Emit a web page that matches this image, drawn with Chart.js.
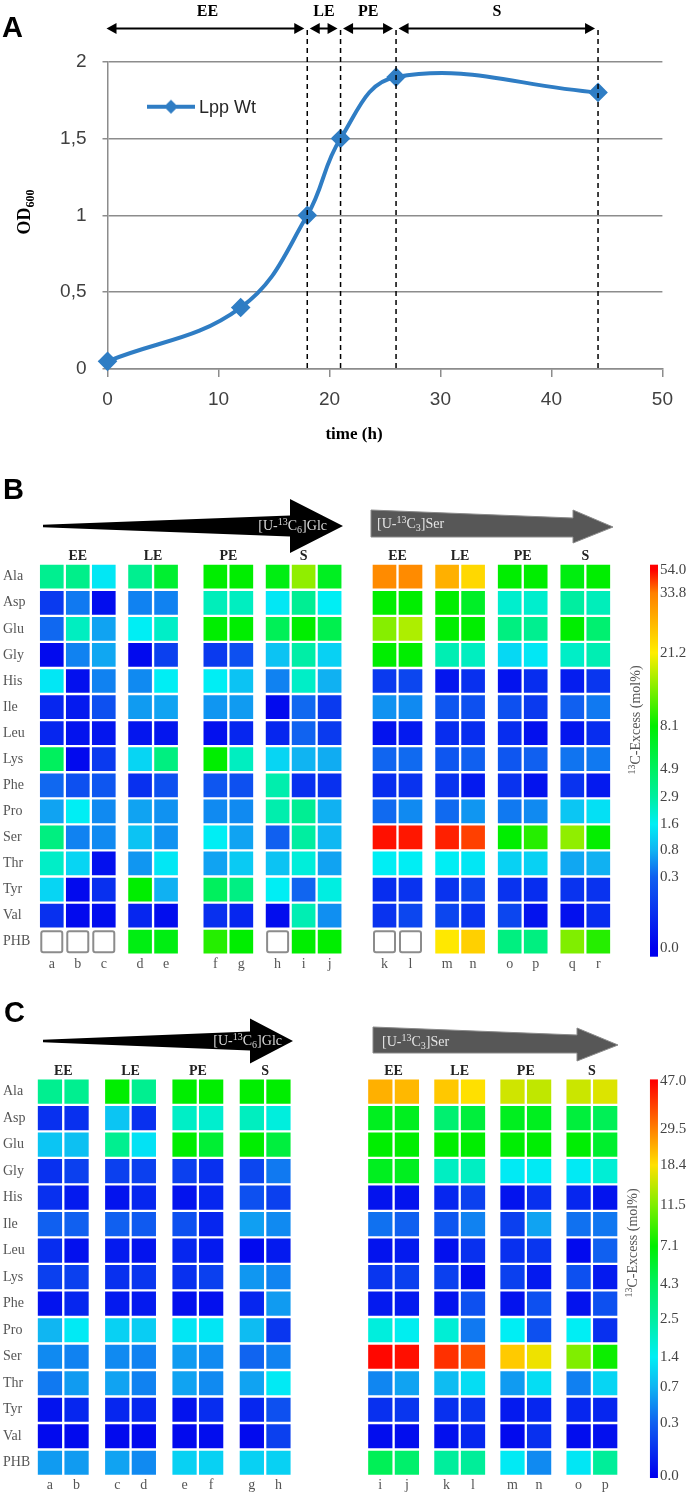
<!DOCTYPE html>
<html>
<head>
<meta charset="utf-8">
<title>Lpp growth and 13C-excess</title>
<script src="https://cdn.jsdelivr.net/npm/chart.js@4.4.1/dist/chart.umd.min.js"></script>
<style>
  html, body { margin: 0; padding: 0; background: #fff; }
  body { position: relative; width: 693px; height: 1496px; overflow: hidden; }
  canvas { position: absolute; }
</style>
</head>
<body>
<canvas id="growth" width="693" height="455" style="left:0;top:0"></canvas>
<canvas id="glcB" width="350" height="510" style="left:0;top:470px"></canvas>
<canvas id="serB" width="343" height="510" style="left:350px;top:470px"></canvas>
<canvas id="glcC" width="350" height="511" style="left:0;top:985px"></canvas>
<canvas id="serC" width="343" height="511" style="left:350px;top:985px"></canvas>
<script>
// growth curve (A)
var hours = [0, 12, 18, 21, 26, 44.2];
var od600 = [0.05, 0.4, 1.0, 1.5, 1.9, 1.8];
var phases = ['EE', 'LE', 'PE', 'S'];
var phaseEnd = [18, 21, 26, 44.2];

// 13C-excess heatmaps (B, C), one row per amino acid, one column per sample
var aminoAcids = ['Ala', 'Asp', 'Glu', 'Gly', 'His', 'Ile', 'Leu', 'Lys', 'Phe', 'Pro', 'Ser', 'Thr', 'Tyr', 'Val', 'PHB'];
var repsGlcB = [3, 2, 2, 3];
var repsSerB = [2, 2, 2, 2];
var repsGlcC = [2, 2, 2, 2];
var repsSerC = [2, 2, 2, 2];
var lettersGlcB = ['a', 'b', 'c', 'd', 'e', 'f', 'g', 'h', 'i', 'j'];
var lettersSerB = ['k', 'l', 'm', 'n', 'o', 'p', 'q', 'r'];
var lettersGlcC = ['a', 'b', 'c', 'd', 'e', 'f', 'g', 'h'];
var lettersSerC = ['i', 'j', 'k', 'l', 'm', 'n', 'o', 'p'];

var excessGlcB = [
  [3.4, 3.6, 1.5, 3.4, 6.5, 8.1, 8.1, 7.5, 15.5, 7.0],
  [0.18, 0.45, 0.04, 0.5, 0.5, 2.5, 2.4, 1.5, 3.3, 1.6],
  [0.35, 2.4, 0.7, 1.6, 2.3, 8.1, 8.1, 5.2, 8.1, 5.5],
  [0.03, 0.5, 0.72, 0.03, 0.2, 0.18, 0.25, 1.0, 2.8, 1.2],
  [1.5, 0.05, 0.5, 0.55, 1.6, 1.6, 1.0, 0.5, 2.3, 0.78],
  [0.12, 0.08, 0.25, 0.65, 0.7, 0.62, 0.65, 0.03, 0.35, 0.18],
  [0.12, 0.06, 0.07, 0.07, 0.07, 0.05, 0.12, 0.12, 0.32, 0.18],
  [5.0, 0.03, 0.18, 1.25, 3.9, 8.1, 2.4, 1.25, 0.8, 0.75],
  [0.35, 0.25, 0.27, 0.15, 0.25, 0.27, 0.25, 2.7, 0.15, 0.15],
  [0.7, 1.6, 0.55, 0.7, 0.6, 0.55, 0.55, 2.7, 3.3, 0.78],
  [3.9, 0.5, 0.55, 1.0, 0.6, 1.6, 0.7, 0.3, 2.9, 0.85],
  [2.3, 1.25, 0.05, 0.62, 1.5, 0.7, 1.1, 1.0, 2.0, 0.7],
  [1.25, 0.03, 0.15, 8.1, 0.78, 5.0, 3.8, 1.6, 0.33, 1.9],
  [0.15, 0.03, 0.04, 0.12, 0.04, 0.15, 0.12, 0.04, 2.6, 0.58],
  [null, null, null, 7.5, 7.5, 10, 8.1, null, 8.1, 8.1]
];
var excessSerB = [
  [32.5, 32.5, 28.3, 23.7, 8.1, 8.1, 7.6, 8.1],
  [8.1, 8.1, 8.1, 6.8, 2.2, 2.2, 2.9, 2.5],
  [15, 17, 8.1, 8.1, 3.9, 3.4, 8.1, 4.4],
  [8.1, 8.1, 2.6, 2.4, 1.3, 1.5, 2.3, 2.6],
  [0.18, 0.22, 0.07, 0.15, 0.06, 0.14, 0.09, 0.17],
  [0.6, 0.55, 0.27, 0.25, 0.25, 0.18, 0.3, 0.45],
  [0.06, 0.08, 0.14, 0.14, 0.14, 0.05, 0.07, 0.14],
  [0.33, 0.36, 0.27, 0.3, 0.27, 0.3, 0.42, 0.45],
  [0.14, 0.16, 0.16, 0.08, 0.16, 0.06, 0.16, 0.08],
  [0.36, 0.55, 0.36, 0.62, 0.45, 0.55, 1.05, 1.4],
  [51.5, 50.3, 49, 43.9, 8.1, 10, 15.5, 8.3],
  [1.6, 1.6, 1.6, 1.5, 1.2, 1.2, 0.72, 0.78],
  [0.14, 0.16, 0.16, 0.22, 0.16, 0.14, 0.16, 0.16],
  [0.16, 0.22, 0.22, 0.16, 0.22, 0.06, 0.05, 0.14],
  [null, null, 21.9, 24.6, 3.9, 3.9, 14.7, 10]
];
var excessGlcC = [
  [2.95, 2.95, 7.1, 2.95, 7.1, 7.1, 7.1, 7.1],
  [0.15, 0.15, 0.9, 0.15, 2.0, 1.9, 2.1, 1.7],
  [0.9, 0.85, 2.95, 1.25, 7.1, 5.6, 7.1, 5.3],
  [0.15, 0.2, 0.2, 0.2, 0.2, 0.15, 0.22, 0.42],
  [0.15, 0.08, 0.06, 0.12, 0.06, 0.12, 0.25, 0.2],
  [0.3, 0.3, 0.3, 0.28, 0.25, 0.12, 0.6, 0.5],
  [0.14, 0.05, 0.08, 0.06, 0.12, 0.08, 0.03, 0.08],
  [0.2, 0.2, 0.15, 0.17, 0.15, 0.2, 0.56, 0.47],
  [0.06, 0.12, 0.08, 0.08, 0.05, 0.05, 0.12, 0.58],
  [0.72, 1.35, 1.05, 1.0, 1.3, 1.3, 0.8, 0.17],
  [0.5, 0.46, 0.5, 0.46, 0.58, 0.5, 0.32, 0.46],
  [0.42, 0.58, 0.62, 0.46, 0.62, 0.5, 0.62, 1.35],
  [0.06, 0.12, 0.12, 0.12, 0.06, 0.14, 0.12, 0.25],
  [0.03, 0.03, 0.03, 0.03, 0.03, 0.04, 0.03, 0.2],
  [0.58, 0.58, 0.62, 0.5, 1.05, 1.05, 1.05, 1.05]
];
var excessSerC = [
  [24, 23, 21.2, 18.4, 15.8, 15, 15.5, 16.5],
  [6.2, 6.2, 3.85, 5.35, 6.2, 6.2, 5.35, 4.6],
  [7.1, 7.1, 7.1, 7.1, 7.0, 7.0, 7.0, 5.8],
  [6.2, 6.2, 2.06, 2.06, 1.35, 1.35, 1.35, 1.8],
  [0.06, 0.06, 0.12, 0.2, 0.06, 0.15, 0.12, 0.06],
  [0.38, 0.3, 0.27, 0.46, 0.2, 0.62, 0.38, 0.41],
  [0.06, 0.08, 0.05, 0.15, 0.15, 0.17, 0.03, 0.3],
  [0.17, 0.2, 0.2, 0.04, 0.2, 0.08, 0.25, 0.08],
  [0.08, 0.08, 0.06, 0.25, 0.06, 0.25, 0.06, 0.25],
  [1.7, 1.45, 1.8, 0.42, 1.4, 0.25, 1.4, 0.15],
  [46, 45, 40.4, 36, 21, 17.5, 11.5, 7.5],
  [0.48, 0.62, 0.8, 1.2, 0.58, 1.2, 0.45, 1.1],
  [0.15, 0.17, 0.15, 0.17, 0.08, 0.12, 0.12, 0.12],
  [0.04, 0.04, 0.05, 0.12, 0.03, 0.15, 0.04, 0.05],
  [4.6, 4.0, 2.6, 2.7, 1.35, 0.5, 1.3, 2.7]
];

// colour-scale tick values (mol%)
var scaleB = [0.0, 0.3, 0.8, 1.6, 2.9, 4.9, 8.1, 21.2, 33.8, 54.0];
var scaleC = [0.0, 0.3, 0.7, 1.4, 2.5, 4.3, 7.1, 11.5, 18.4, 29.5, 47.0];

// ---- styling ----
var SERIF = '"Liberation Serif", "Times New Roman", serif';
var SANS = '"Liberation Sans", Arial, sans-serif';
var LINE = '#2f7dc4';
var GRID = '#8c8c8c';

// where each tick sits along the colour bar (0 = bottom, 1 = top) and its colour
var barPosB = [0.017, 0.199, 0.268, 0.334, 0.404, 0.475, 0.585, 0.772, 0.925, 0.984];
var barPosC = [0.0, 0.133, 0.224, 0.299, 0.395, 0.483, 0.578, 0.682, 0.782, 0.873, 0.993];
var rampB = ['#0000ee', '#1060f0', '#10b4f2', '#00eef4', '#00eea0', '#00f060', '#00ee00', '#ffee00', '#ff8000', '#ff0000'];
var rampC = ['#0000ee', '#1060f0', '#10b4f2', '#00eef4', '#00eea0', '#00f060', '#00ee00', '#80ee00', '#ffe000', '#ff8000', '#ff0000'];

function hexRgb(h) {
  return [1, 3, 5].map(function (i) { return parseInt(h.slice(i, i + 2), 16); });
}

function cellColour(v, ticks, ramp) {
  if (v <= ticks[0]) return ramp[0];
  for (var i = 1; i < ticks.length; i++) {
    if (v <= ticks[i]) {
      var f = (v - ticks[i - 1]) / (ticks[i] - ticks[i - 1]);
      var a = hexRgb(ramp[i - 1]), b = hexRgb(ramp[i]);
      return 'rgb(' + a.map(function (c, k) { return Math.round(c + (b[k] - c) * f); }).join(',') + ')';
    }
  }
  return ramp[ramp.length - 1];
}

// text with super/subscripts; y is the baseline
function drawRich(ctx, parts, x, y, o) {
  var size = o.size, weight = o.weight || 'normal', family = o.family || SERIF;
  var small = Math.round(size * 0.68);
  function fontOf(p) { return weight + ' ' + (p.sup || p.sub ? small : size) + 'px ' + family; }
  var total = 0;
  parts.forEach(function (p) { ctx.font = fontOf(p); total += ctx.measureText(p.t).width; });
  var cx = o.align === 'center' ? x - total / 2 : o.align === 'right' ? x - total : x;
  ctx.textAlign = 'left';
  ctx.textBaseline = 'alphabetic';
  parts.forEach(function (p) {
    ctx.font = fontOf(p);
    var dy = p.sup ? -size * 0.38 : p.sub ? size * 0.22 : 0;
    ctx.fillText(p.t, cx, y + dy);
    cx += ctx.measureText(p.t).width;
  });
}

function taperArrow(ctx, a) {
  ctx.beginPath();
  ctx.moveTo(a.tail, a.cy - 1.2);
  ctx.lineTo(a.base, a.cy - a.body);
  ctx.lineTo(a.base, a.cy - a.head);
  ctx.lineTo(a.tip, a.cy);
  ctx.lineTo(a.base, a.cy + a.head);
  ctx.lineTo(a.base, a.cy + a.body);
  ctx.lineTo(a.tail, a.cy + 1.2);
  ctx.closePath();
  ctx.fillStyle = '#000';
  ctx.fill();
  ctx.fillStyle = '#d8d8d8';
  drawRich(ctx, [{ t: '[U-' }, { t: '13', sup: true }, { t: 'C' }, { t: '6', sub: true }, { t: ']Glc' }],
    a.textX, a.cy + 4, { size: 14, align: 'right' });
}

function blockArrow(ctx, a) {
  ctx.beginPath();
  ctx.moveTo(a.tail, a.top);
  ctx.lineTo(a.base, a.top + 8);
  ctx.lineTo(a.base, a.headTop);
  ctx.lineTo(a.tip, a.cy);
  ctx.lineTo(a.base, a.headBottom);
  ctx.lineTo(a.base, a.bottom);
  ctx.lineTo(a.tail, a.bottom);
  ctx.closePath();
  ctx.fillStyle = '#575757';
  ctx.fill();
  ctx.strokeStyle = '#8a8a8a';
  ctx.lineWidth = 1;
  ctx.stroke();
  ctx.fillStyle = '#e4e4e4';
  drawRich(ctx, [{ t: '[U-' }, { t: '13', sup: true }, { t: 'C' }, { t: '3', sub: true }, { t: ']Ser' }],
    a.textX, a.textY, { size: 14, align: 'left' });
}

// ---- A: growth curve ----
var mark = document.createElement('canvas');
mark.width = 48; mark.height = 16;
(function () {
  var m = mark.getContext('2d');
  m.strokeStyle = LINE; m.lineWidth = 4;
  m.beginPath(); m.moveTo(0, 8); m.lineTo(48, 8); m.stroke();
  m.fillStyle = LINE;
  m.beginPath(); m.moveTo(24, 1); m.lineTo(31, 8); m.lineTo(24, 15); m.lineTo(17, 8); m.closePath(); m.fill();
})();

var growthDeco = {
  id: 'growthDeco',
  afterDraw: function (chart) {
    var ctx = chart.ctx, ca = chart.chartArea, x = chart.scales.x;
    ctx.save();
    ctx.strokeStyle = '#000';
    ctx.fillStyle = '#000';
    ctx.lineWidth = 1.5;
    ctx.setLineDash([5, 4]);
    phaseEnd.forEach(function (h) {
      var px = x.getPixelForValue(h);
      ctx.beginPath(); ctx.moveTo(px, 30); ctx.lineTo(px, ca.bottom); ctx.stroke();
    });
    ctx.setLineDash([]);

    var ay = 28.5;
    function head(tipX, dir) {
      ctx.beginPath();
      ctx.moveTo(tipX, ay);
      ctx.lineTo(tipX + dir * 10, ay - 5.5);
      ctx.lineTo(tipX + dir * 10, ay + 5.5);
      ctx.closePath();
      ctx.fill();
    }
    phases.forEach(function (name, i) {
      var p0 = x.getPixelForValue(i === 0 ? 0 : phaseEnd[i - 1]);
      var p1 = x.getPixelForValue(phaseEnd[i]);
      var x0 = i === 0 ? p0 - 1 : p0 + 2.5;
      var x1 = p1 - 3;
      ctx.lineWidth = 2;
      ctx.beginPath(); ctx.moveTo(x0 + 5, ay); ctx.lineTo(x1 - 5, ay); ctx.stroke();
      head(x0, 1);
      head(x1, -1);
      ctx.font = 'bold 16px ' + SERIF;
      ctx.textAlign = 'center';
      ctx.textBaseline = 'alphabetic';
      ctx.fillText(name, (p0 + p1) / 2, 16);
    });

    ctx.font = 'bold 29px ' + SANS;
    ctx.textAlign = 'left';
    ctx.fillText('A', 2, 37);

    // legend
    var lx = ca.left + 39.5, ly = ca.top + 45;
    ctx.drawImage(mark, lx, ly - 8);
    ctx.font = '18px ' + SANS;
    ctx.fillStyle = '#262626';
    ctx.textBaseline = 'middle';
    ctx.fillText(chart.data.datasets[0].label, lx + 52, ly + 1);

    // axis titles
    ctx.fillStyle = '#000';
    drawRich(ctx, [{ t: 'time (h)' }], 354, 439, { size: 17, weight: 'bold', align: 'center' });
    ctx.save();
    ctx.translate(24, 212);
    ctx.rotate(-Math.PI / 2);
    drawRich(ctx, [{ t: 'OD' }, { t: '600', sub: true }], 0, 6, { size: 18, weight: 'bold', align: 'center' });
    ctx.restore();
    ctx.restore();
  }
};

new Chart(document.getElementById('growth'), {
  type: 'line',
  data: {
    datasets: [{
      label: 'Lpp Wt',
      data: hours.map(function (h, i) { return { x: h, y: od600[i] }; }),
      borderColor: LINE,
      backgroundColor: LINE,
      borderWidth: 4,
      tension: 0.4,
      pointStyle: 'rectRot',
      pointRadius: 7,
      pointHoverRadius: 7,
      clip: false
    }]
  },
  options: {
    responsive: false,
    animation: false,
    events: [],
    layout: { padding: { top: 61.7, right: 30.6, left: 0, bottom: 0 } },
    scales: {
      x: {
        type: 'linear', min: 0, max: 50,
        ticks: { stepSize: 10, font: { family: SANS, size: 19 }, color: '#404040', padding: 11 },
        grid: { drawOnChartArea: false, tickLength: 8, color: GRID, lineWidth: 1.5 },
        border: { color: GRID, width: 1.5 },
        afterFit: function (s) { s.height = 86; }
      },
      y: {
        min: 0, max: 2,
        ticks: {
          stepSize: 0.5, font: { family: SANS, size: 19 }, color: '#404040', padding: 16,
          callback: function (v) { return String(v).replace('.', ','); }
        },
        grid: { color: GRID, lineWidth: 1.5, tickLength: 5 },
        border: { color: GRID, width: 1.5 },
        afterFit: function (s) { s.width = 107.5; }
      }
    },
    plugins: { legend: { display: false }, tooltip: { enabled: false } }
  },
  plugins: [growthDeco]
});

// ---- B, C: heatmaps drawn as stacked, grouped bars ----
function heatmap(canvasId, o) {
  var nRows = aminoAcids.length;
  var first = o.reps.map(function (n, g) { return o.reps.slice(0, g).reduce(function (s, v) { return s + v; }, 0); });
  var maxRep = Math.max.apply(null, o.reps);
  var datasets = [];
  for (var r = 0; r < maxRep; r++) {
    aminoAcids.forEach(function (aa, k) {
      var vals = o.reps.map(function (n, g) { return r < n ? o.values[k][first[g] + r] : undefined; });
      datasets.push({
        label: aa,
        stack: 'rep' + r,
        yAxisID: 'y',
        cellValues: vals,
        data: o.reps.map(function (n) { return r < n ? 1 : null; }),
        backgroundColor: vals.map(function (v) { return v == null ? '#ffffff' : cellColour(v, o.ticks, o.ramp); }),
        borderColor: '#ffffff',
        borderWidth: 1.5,
        borderSkipped: false,
        barThickness: o.pitch,
        skipNull: true,
        clip: false
      });
    });
  }

  var scales = {
    x: {
      type: 'category', position: 'top', stacked: true, offset: true,
      grid: { display: false, drawTicks: false, tickLength: 0 }, border: { display: false },
      ticks: { font: { family: SERIF, size: 14, weight: 'bold', lineHeight: 1 }, color: '#222', padding: 0, maxRotation: 0 },
      afterFit: function (s) { s.height = o.area.top; s.paddingLeft = 0; s.paddingRight = 0; }
    },
    y: {
      type: 'linear', min: 0, max: nRows, reverse: true, stacked: true, display: o.rowLabels,
      grid: { display: false, drawTicks: false, tickLength: 0 }, border: { display: false },
      afterBuildTicks: function (s) { s.ticks = aminoAcids.map(function (_, i) { return { value: i + 0.5 }; }); },
      ticks: {
        autoSkip: false, crossAlign: 'far', padding: 0, color: '#555',
        font: { family: SERIF, size: 14 },
        callback: function (v) { return aminoAcids[Math.floor(v)]; }
      },
      afterFit: function (s) {
        s.width = o.rowLabels ? o.area.left - 3 : 0;
        s.paddingTop = 0;
        s.paddingBottom = 0;
      }
    }
  };
  if (o.bar) {
    scales.cb = {
      type: 'linear', position: 'right', min: 0, max: 1,
      grid: { display: false, drawTicks: false, tickLength: 0 }, border: { display: false },
      afterBuildTicks: function (s) { s.ticks = o.bar.pos.map(function (p) { return { value: Math.max(0, p) }; }); },
      ticks: {
        autoSkip: false, padding: o.bar.labelPad, color: '#444',
        font: { family: SERIF, size: 15 },
        callback: function (v, i) { return o.ticks[i].toFixed(1); }
      },
      afterFit: function (s) { s.width = o.width - o.area.right; s.paddingTop = 0; s.paddingBottom = 0; }
    };
  }

  var deco = {
    id: 'heatDeco',
    afterDatasetsDraw: function (chart) {
      var ctx = chart.ctx;
      ctx.save();
      ctx.strokeStyle = '#8c8c8c';
      ctx.lineWidth = 2;
      chart.data.datasets.forEach(function (ds, i) {
        chart.getDatasetMeta(i).data.forEach(function (el, g) {
          if (ds.cellValues[g] !== null) return;
          var top = Math.min(el.y, el.base), h = Math.abs(el.base - el.y);
          ctx.beginPath();
          ctx.roundRect(el.x - el.width / 2 + 2.5, top + 2.5, el.width - 5, h - 5, 2);
          ctx.stroke();
        });
      });
      ctx.restore();
    },
    afterDraw: function (chart) {
      var ctx = chart.ctx, ca = chart.chartArea;
      ctx.save();
      // sample letters under each column
      ctx.font = '14px ' + SERIF;
      ctx.fillStyle = '#555';
      ctx.textAlign = 'center';
      ctx.textBaseline = 'middle';
      var n = 0;
      o.reps.forEach(function (cnt, g) {
        for (var r = 0; r < cnt; r++) {
          var el = chart.getDatasetMeta(r * nRows).data[g];
          ctx.fillText(o.letters[n++], el.x, ca.bottom + o.letterGap);
        }
      });
      // substrate arrow
      if (o.taper) taperArrow(ctx, o.taper);
      if (o.block) blockArrow(ctx, o.block);
      // panel letter
      if (o.panel) {
        ctx.fillStyle = '#000';
        ctx.font = 'bold 29px ' + SANS;
        ctx.textAlign = 'left';
        ctx.textBaseline = 'alphabetic';
        ctx.fillText(o.panel.text, o.panel.x, o.panel.y);
      }
      // colour bar
      if (o.bar) {
        var a = chart.scales.cb;
        var grad = ctx.createLinearGradient(0, a.bottom, 0, a.top);
        o.bar.pos.forEach(function (p, i) { grad.addColorStop(Math.min(1, Math.max(0, p)), o.ramp[i]); });
        ctx.fillStyle = grad;
        ctx.fillRect(a.left + o.bar.offset, a.top + 1, 8, a.bottom - a.top + 1);
        ctx.save();
        ctx.translate(o.bar.titleX, o.bar.titleY);
        ctx.rotate(-Math.PI / 2);
        ctx.fillStyle = '#555';
        drawRich(ctx, [{ t: '13', sup: true }, { t: 'C-Excess (mol%)' }], 0, 5, { size: 14, align: 'center' });
        ctx.restore();
      }
      ctx.restore();
    }
  };

  return new Chart(document.getElementById(canvasId), {
    type: 'bar',
    data: { labels: phases, datasets: datasets },
    options: {
      responsive: false,
      animation: false,
      events: [],
      layout: {
        padding: {
          left: o.rowLabels ? 3 : o.area.left,
          right: o.bar ? 0 : o.width - o.area.right,
          top: 0,
          bottom: o.height - o.area.bottom
        }
      },
      scales: scales,
      plugins: { legend: { display: false }, tooltip: { enabled: false } }
    },
    plugins: [deco]
  });
}

heatmap('glcB', {
  values: excessGlcB, reps: repsGlcB, letters: lettersGlcB, ticks: scaleB, ramp: rampB,
  pitch: 26, width: 350, height: 510, rowLabels: true, letterGap: 10,
  area: { left: 40.15, right: 341.25, top: 93.7, bottom: 484.7 },
  taper: { tail: 43, base: 290, tip: 343, cy: 56, body: 10.5, head: 27, textX: 327 },
  panel: { text: 'B', x: 3, y: 28.5 }
});
heatmap('serB', {
  values: excessSerB, reps: repsSerB, letters: lettersSerB, ticks: scaleB, ramp: rampB,
  pitch: 26, width: 343, height: 510, rowLabels: false, letterGap: 10,
  area: { left: 16.2, right: 266.6, top: 93.7, bottom: 484.7 },
  block: { tail: 21, top: 40, base: 223, headTop: 40, tip: 263, cy: 57, headBottom: 73, bottom: 67, textX: 27, textY: 58 },
  bar: { pos: barPosB, offset: 33.4, labelPad: 43.4, titleX: 285, titleY: 250 }
});
heatmap('glcC', {
  values: excessGlcC, reps: repsGlcC, letters: lettersGlcC, ticks: scaleC, ramp: rampC,
  pitch: 26.6, width: 350, height: 511, rowLabels: true, letterGap: 9,
  area: { left: 29.6, right: 298.8, top: 93.4, bottom: 491 },
  taper: { tail: 43, base: 250, tip: 293, cy: 56, body: 9.5, head: 22.5, textX: 282 },
  panel: { text: 'C', x: 4, y: 36.5 }
});
heatmap('serC', {
  values: excessSerC, reps: repsSerC, letters: lettersSerC, ticks: scaleC, ramp: rampC,
  pitch: 26.6, width: 343, height: 511, rowLabels: false, letterGap: 9,
  area: { left: 10.55, right: 274.95, top: 93.4, bottom: 491 },
  block: { tail: 23, top: 42, base: 227, headTop: 43, tip: 268, cy: 60, headBottom: 76, bottom: 68, textX: 32, textY: 61 },
  bar: { pos: barPosC, offset: 25, labelPad: 35, titleX: 282, titleY: 258 }
});
</script>
</body>
</html>
